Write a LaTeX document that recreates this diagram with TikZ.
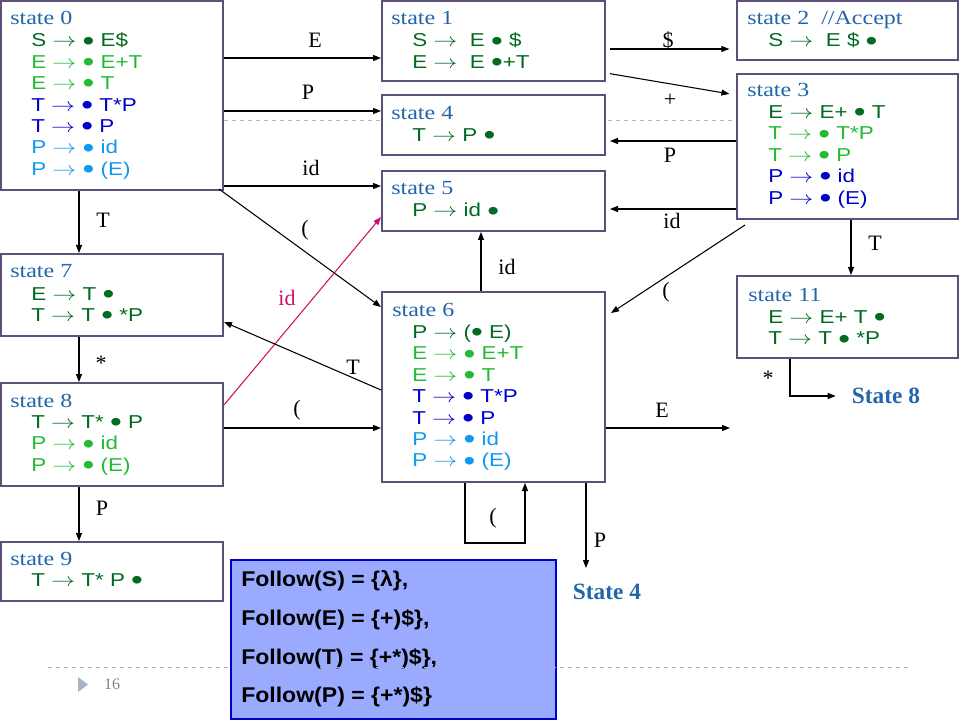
\documentclass[tikz,border=0pt]{standalone}
\usepackage{fontspec}
\usepackage{graphicx}
\setmainfont{Liberation Serif}
\newfontfamily\wideserif[FakeStretch=1.2]{Liberation Serif}
\newfontfamily\widesans[FakeStretch=1.2]{Liberation Sans}
\newfontfamily\followsans[FakeStretch=1.08]{Liberation Sans}
\usetikzlibrary{arrows.meta,fit}

\definecolor{boxline}{HTML}{5E4F7C}
\definecolor{stlabel}{HTML}{2266AA}
\definecolor{dkgreen}{HTML}{006B21}
\definecolor{ltgreen}{HTML}{22BB33}
\definecolor{dkblue}{HTML}{0000CC}
\definecolor{ltblue}{HTML}{1199EE}
\definecolor{idred}{HTML}{CC1166}
\definecolor{followfill}{HTML}{99AAFF}
\definecolor{followline}{HTML}{0000CC}
\definecolor{guide}{HTML}{A8B4C4}

\newcommand{\prodarrow}{\scalebox{1.25}[1]{$\rightarrow$}}
\newcommand{\pdot}{\raisebox{-0.17em}{\scalebox{1.5}{•}}}

\tikzset{
  statebox/.style={draw=boxline, line width=1.5pt, fill=white, inner sep=0pt},
  stlab/.style={anchor=base west, inner sep=0pt, text=stlabel,
    font=\wideserif\fontsize{15pt}{16pt}\selectfont},
  % anchored at the baseline of the last line
  prods/.style={anchor=base west, inner sep=0pt, align=left,
    font=\widesans\fontsize{14pt}{16.05pt}\selectfont},
  elab/.style={inner sep=0pt, font=\fontsize{16.5pt}{18pt}\selectfont},
  goto/.style={inner sep=0pt, text=stlabel, font=\bfseries\fontsize{17.5pt}{18pt}\selectfont},
  arr/.style={-{Triangle[length=6pt,width=4.5pt]}, line width=0.8pt},
  guideline/.style={draw=guide, dashed, line width=0.6pt}
}

\begin{document}
\begin{tikzpicture}[x=0.75pt, y=-0.75pt]
  \useasboundingbox (0,0) rectangle (960,720);

  % slide guide line behind the states
  \draw[guideline] (48,120) -- (912,120);

  % state boxes
  \node[statebox, fit={(1,1) (223,190)}] (s0) {};
  \node[statebox, fit={(382,1) (605,81)}] (s1) {};
  \node[statebox, fit={(737,1) (958,60)}] (s2) {};
  \node[statebox, fit={(737,74) (958,219)}] (s3) {};
  \node[statebox, fit={(382,95) (605,155)}] (s4) {};
  \node[statebox, fit={(382,171) (605,231)}] (s5) {};
  \node[statebox, fit={(382,292) (605,482)}] (s6) {};
  \node[statebox, fit={(1,254) (223,336)}] (s7) {};
  \node[statebox, fit={(1,383) (223,486)}] (s8) {};
  \node[statebox, fit={(1,542) (223,601)}] (s9) {};
  \node[statebox, fit={(737,276) (958,358)}] (s11) {};

  % item sets
  \node[stlab] (s0l) at (10,25) {state 0};
  \node[prods] (s0p) at (31,175.4) {%
    {\color{dkgreen}S \prodarrow{} \pdot{} E\$}\\
    {\color{ltgreen}E \prodarrow{} \pdot{} E+T}\\
    {\color{ltgreen}E \prodarrow{} \pdot{} T}\\
    {\color{dkblue}T \prodarrow{} \pdot{} T*P}\\
    {\color{dkblue}T \prodarrow{} \pdot{} P}\\
    {\color{ltblue}P \prodarrow{} \pdot{} id}\\
    {\color{ltblue}P \prodarrow{} \pdot{} (E)}};

  \node[stlab] (s1l) at (391,25) {state 1};
  \node[prods] (s1p) at (412,68.4) {%
    {\color{dkgreen}S \prodarrow{}\ \ E \pdot{} \$}\\
    {\color{dkgreen}E \prodarrow{}\ \ E \pdot{}+T}};

  \node[stlab] (s2l) at (747,25) {state 2\ \ //Accept};
  \node[prods] (s2p) at (768,47) {%
    {\color{dkgreen}S \prodarrow{}\ \ E \$ \pdot}};

  \node[stlab] (s3l) at (747,97) {state 3};
  \node[prods] (s3p) at (768,204.1) {%
    {\color{dkgreen}E \prodarrow{} E+ \pdot{} T}\\
    {\color{ltgreen}T \prodarrow{} \pdot{} T*P}\\
    {\color{ltgreen}T \prodarrow{} \pdot{} P}\\
    {\color{dkblue}P \prodarrow{} \pdot{} id}\\
    {\color{dkblue}P \prodarrow{} \pdot{} (E)}};

  \node[stlab] (s4l) at (391,119.5) {state 4};
  \node[prods] (s4p) at (412,141.5) {%
    {\color{dkgreen}T \prodarrow{} P \pdot}};

  \node[stlab] (s5l) at (391,195) {state 5};
  \node[prods] (s5p) at (412,217) {%
    {\color{dkgreen}P \prodarrow{} id \pdot}};

  \node[stlab] (s6l) at (392,316) {state 6};
  \node[prods] (s6p) at (412,466.9) {%
    {\color{dkgreen}P \prodarrow{} (\pdot{} E)}\\
    {\color{ltgreen}E \prodarrow{} \pdot{} E+T}\\
    {\color{ltgreen}E \prodarrow{} \pdot{} T}\\
    {\color{dkblue}T \prodarrow{} \pdot{} T*P}\\
    {\color{dkblue}T \prodarrow{} \pdot{} P}\\
    {\color{ltblue}P \prodarrow{} \pdot{} id}\\
    {\color{ltblue}P \prodarrow{} \pdot{} (E)}};

  \node[stlab] (s7l) at (10,278) {state 7};
  \node[prods] (s7p) at (31,321.4) {%
    {\color{dkgreen}E \prodarrow{} T \pdot}\\
    {\color{dkgreen}T \prodarrow{} T \pdot{} *P}};

  \node[stlab] (s8l) at (10,407) {state 8};
  \node[prods] (s8p) at (31,471.3) {%
    {\color{dkgreen}T \prodarrow{} T* \pdot{} P}\\
    {\color{ltgreen}P \prodarrow{} \pdot{} id}\\
    {\color{ltgreen}P \prodarrow{} \pdot{} (E)}};

  \node[stlab] (s9l) at (10,565) {state 9};
  \node[prods] (s9p) at (31,586.5) {%
    {\color{dkgreen}T \prodarrow{} T* P \pdot}};

  \node[stlab] (s11l) at (748,301.5) {state 11};
  \node[prods] (s11p) at (768,344.9) {%
    {\color{dkgreen}E \prodarrow{} E+ T \pdot}\\
    {\color{dkgreen}T \prodarrow{} T \pdot{} *P}};

  % targets drawn as plain text
  \node[goto] (go8) at (886,396) {State 8};
  \node[goto] (go4) at (607,592) {State 4};
  \coordinate (eout) at (730,428);

  % transitions
  \draw[arr] (s0.east |- 0,58) -- (s1.west |- 0,58);
  \draw[arr] (s0.east |- 0,111) -- (s4.west |- 0,111);
  \draw[arr] (s0.east |- 0,186) -- (s5.west |- 0,186);
  \draw[arr] (s0.south east) ++(-5,-2) -- (s6.west |- 0,307);
  \draw[arr, idred] (s8.east |- 0,405) -- (s5.west |- 0,217);
  \draw[arr] (s6.west |- 0,390) -- (s7.east |- 0,322);
  \draw[arr] (s8.east |- 0,428) -- (s6.west |- 0,428);
  \draw[arr] (s0.south -| 79,0) -- (s7.north -| 79,0);
  \draw[arr] (s7.south -| 79,0) -- (s8.north -| 79,0);
  \draw[arr] (s8.south -| 79,0) -- (s9.north -| 79,0);
  \draw[arr, shorten <=3pt, shorten >=5pt] (s1.east |- 0,49) -- (s2.west |- 0,49);
  \draw[arr, shorten <=3pt, shorten >=5pt] (s1.east |- 0,73) -- (s3.west |- 0,95);
  \draw[arr, shorten >=3pt] (s3.west |- 0,141) -- (s4.east |- 0,141);
  \draw[arr, shorten >=3pt] (s3.west |- 0,209) -- (s5.east |- 0,209);
  \draw[arr] (745,225) -- (611,313);
  \draw[arr] (s3.south -| 851,0) -- (s11.north -| 851,0);
  \draw[arr, shorten >=12pt] (s11.south -| 790,0) |- (go8.west);
  \draw[arr] (s6.north -| 481,0) -- (s5.south -| 481,0);
  \draw[arr] (s6.east |- eout) -- (eout);
  \draw[arr] (s6.south -| 465,0) -- ++(0,60) -- ++(60,0) -- (s6.south -| 525,0);
  \draw[arr] (s6.south -| 586,0) -- (586,568);

  % transition labels
  \node[elab] (lE1) at (315,40) {E};
  \node[elab] (lP1) at (308,92) {P};
  \node[elab] (lid1) at (311,168) {id};
  \node[elab] (lpar1) at (305,230) {(};
  \node[elab, text=idred] (lid2) at (287,298) {id};
  \node[elab] (lT1) at (353,367) {T};
  \node[elab] (lpar2) at (297,410) {(};
  \node[elab] (lT2) at (103,220) {T};
  \node[elab] (lstar1) at (101,363) {*};
  \node[elab] (lP2) at (102,508) {P};
  \node[elab] (ldol) at (668,40) {\$};
  \node[elab] (lplus) at (670,100) {+};
  \node[elab] (lP3) at (670,155) {P};
  \node[elab] (lid3) at (672,221) {id};
  \node[elab] (lpar3) at (666,292) {(};
  \node[elab] (lT3) at (875,243) {T};
  \node[elab] (lstar2) at (768,378) {*};
  \node[elab] (lid4) at (507,267) {id};
  \node[elab] (lE2) at (662,410) {E};
  \node[elab] (lpar4) at (493,518) {(};
  \node[elab] (lP4) at (600,540) {P};

  % follow sets
  \node[draw=followline, line width=1.5pt, fill=followfill, inner sep=0pt,
        fit={(231,560) (556,719)}] (follow) {};
  \node[anchor=west, inner sep=0pt, align=left,
        font=\followsans\bfseries\fontsize{16pt}{29pt}\selectfont] (followtxt) at (241,639) {%
    Follow(S) = \{λ\},\\
    Follow(E) = \{+)\$\},\\
    Follow(T) = \{+*)\$\},\\
    Follow(P) = \{+*)\$\}};

  % slide footer
  \draw[guideline] (48,667) -- (912,667);
  \fill[guide] (78,677) -- (88,684.5) -- (78,692) -- cycle;
  \node[inner sep=0pt, text=gray, font=\fontsize{12pt}{14pt}\selectfont] (pagenum) at (112,684) {16};
\end{tikzpicture}
\end{document}
